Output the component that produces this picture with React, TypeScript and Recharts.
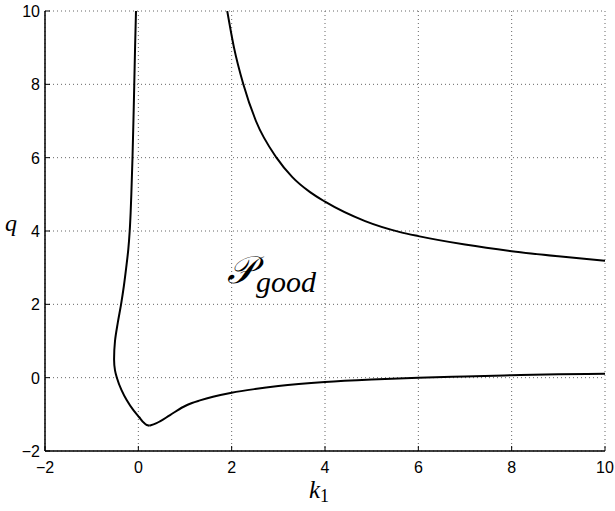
import { CartesianGrid, Line, LineChart, XAxis, YAxis } from "recharts";

const kTicks = [-2, 0, 2, 4, 6, 8, 10];
const qTicks = [-2, 0, 2, 4, 6, 8, 10];

// left branch: from the top edge down to the minimum (monotone in q)
const dropK = [
  -0.05, -0.07, -0.087, -0.105, -0.125, -0.15, -0.165, -0.185, -0.215, -0.26, -0.31, -0.37, -0.44,
  -0.5, -0.52, -0.5, -0.46, -0.36, -0.25, -0.11, 0.02, 0.12, 0.18, 0.235,
];
const dropQ = [
  10, 9, 8, 7, 6, 5, 4.5, 4, 3.5, 3, 2.5, 2, 1.5, 1.0, 0.5, 0.2, 0, -0.34, -0.61, -0.88, -1.08,
  -1.23, -1.29, -1.31,
];

// left branch: from the minimum out to the right edge (monotone in k)
const tailK = [0.235, 0.39, 0.68, 0.96, 1.15, 1.32, 1.6, 2.0, 2.5, 3.0, 4.0, 5.0, 6.0, 7.0, 8.0, 9.0, 10.0];
const tailQ = [
  -1.31, -1.24, -1.02, -0.8, -0.69, -0.62, -0.52, -0.41, -0.31, -0.23, -0.12, -0.05, 0.0, 0.035,
  0.065, 0.09, 0.11,
];

// upper-right branch
const upperK = [1.905, 2.05, 2.25, 2.52, 2.96, 3.3, 3.68, 4.0, 4.86, 5.61, 6.0, 7.0, 8.0, 9.0, 10.0];
const upperQ = [10, 9, 8, 7, 6, 5.47, 5.06, 4.8, 4.27, 3.97, 3.86, 3.63, 3.45, 3.31, 3.19];

const dropCurve = dropK.map((k, i) => ({ k, q: dropQ[i] }));
const tailCurve = tailK.map((k, i) => ({ k, q: tailQ[i] }));
const upperCurve = upperK.map((k, i) => ({ k, q: upperQ[i] }));

const fmt = (v: number) => (v < 0 ? `\u2212${-v}` : `${v}`);
const sans = "'Liberation Sans', Arial, Helvetica, sans-serif";
const serif = "'Liberation Serif', 'Times New Roman', Times, serif";
const tickStyle = { fontFamily: sans, fontSize: 16, fill: "#000" };

function BottomTick({ x, y, payload }: any) {
  return (
    <g>
      <line x1={x} x2={x} y1={y} y2={y - 5} stroke="#000" />
      <text x={x} y={y + 22} textAnchor="middle" style={tickStyle}>
        {fmt(payload.value)}
      </text>
    </g>
  );
}

function LeftTick({ x, y, payload }: any) {
  return (
    <g>
      <line x1={x} x2={x + 5} y1={y} y2={y} stroke="#000" />
      <text x={x - 5} y={y + 6} textAnchor="end" style={tickStyle}>
        {fmt(payload.value)}
      </text>
    </g>
  );
}

function TopTick({ x, y }: any) {
  return <line x1={x} x2={x} y1={y} y2={y + 5} stroke="#000" />;
}

function RightTick({ x, y }: any) {
  return <line x1={x} x2={x - 5} y1={y} y2={y} stroke="#000" />;
}

const axisLine = { stroke: "#000", strokeWidth: 1.5 };

export default function App() {
  return (
    <div style={{ position: "absolute", left: 0, top: 0, width: 615, height: 511, background: "#fff" }}>
      <LineChart width={615} height={511} margin={{ top: 11, right: 10, bottom: 30, left: 5 }}>
        <CartesianGrid stroke="#666" strokeDasharray="1 3" />
        <XAxis
          dataKey="k"
          type="number"
          domain={[-2, 10]}
          ticks={kTicks}
          allowDataOverflow
          height={30}
          tickSize={0}
          tickMargin={0}
          tick={<BottomTick />}
          axisLine={axisLine}
        />
        <XAxis
          xAxisId="top"
          orientation="top"
          type="number"
          domain={[-2, 10]}
          ticks={kTicks}
          allowDataOverflow
          height={0}
          tickSize={0}
          tickMargin={0}
          tick={<TopTick />}
          axisLine={axisLine}
        />
        <YAxis
          type="number"
          domain={[-2, 10]}
          ticks={qTicks}
          allowDataOverflow
          width={40}
          tickSize={0}
          tickMargin={0}
          tick={<LeftTick />}
          axisLine={axisLine}
        />
        <YAxis
          yAxisId="right"
          orientation="right"
          type="number"
          domain={[-2, 10]}
          ticks={qTicks}
          allowDataOverflow
          width={0}
          tickSize={0}
          tickMargin={0}
          tick={<RightTick />}
          axisLine={axisLine}
        />
        <Line
          data={dropCurve}
          dataKey="q"
          type="monotoneY"
          stroke="#000"
          strokeWidth={2}
          dot={false}
          isAnimationActive={false}
        />
        <Line
          data={tailCurve}
          dataKey="q"
          type="monotoneX"
          stroke="#000"
          strokeWidth={2}
          dot={false}
          isAnimationActive={false}
        />
        <Line
          data={upperCurve}
          dataKey="q"
          type="monotoneX"
          stroke="#000"
          strokeWidth={2}
          dot={false}
          isAnimationActive={false}
        />
        <text x={227} y={283} style={{ fontFamily: serif, fontStyle: "italic", fontSize: 38 }} fill="#000">
          {"\u{1D4AB}"}
          <tspan dx={2} dy={9} style={{ fontSize: 30 }}>
            good
          </tspan>
        </text>
        <text x={5} y={231} style={{ fontFamily: serif, fontStyle: "italic", fontSize: 24 }} fill="#000">
          q
        </text>
        <text x={309} y={498} style={{ fontFamily: serif, fontStyle: "italic", fontSize: 25 }} fill="#000">
          k
          <tspan dy={4} style={{ fontSize: 18, fontStyle: "normal" }}>
            1
          </tspan>
        </text>
      </LineChart>
    </div>
  );
}
